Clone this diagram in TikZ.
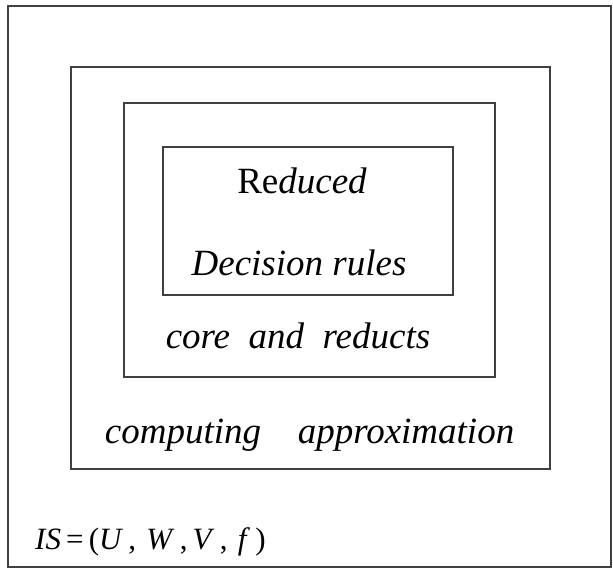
\documentclass[tikz,border=0pt]{standalone}
\usepackage{fontspec}
\setmainfont{Liberation Serif}
\tikzset{
  frame/.style={draw=black!75, line width=2.2pt},
  lbl/.style={inner sep=0pt, anchor=base, font=\fontsize{37}{40}\selectfont\itshape},
  smalllbl/.style={inner sep=0pt, anchor=base west, font=\fontsize{31}{34}\selectfont}
}
\begin{document}
\begin{tikzpicture}[x=1pt,y=-1pt]
\useasboundingbox (0,0) rectangle (613,569);
\fill[white] (0,0) rectangle (613,569);
\draw[frame] (8,6) rectangle (611,567);
\draw[frame] (71,67) rectangle (550,469);
\draw[frame] (124,103) rectangle (495,377);
\draw[frame] (163,147) rectangle (453,295);
\node[lbl] (red) at (302,194) {\upshape Re\itshape duced};
\node[lbl] (dec) at (299,276) {Decision rules};
\node[lbl] (core) at (298,348) {core\ \ and\ \ reducts};
\node[lbl] (comp) at (183,443) {computing};
\node[lbl] (appr) at (406,443) {approximation};
\node[smalllbl] (is) at (35,549) {\textit{IS}\,=\,(\textit{U}\,,\,\,\textit{W}\,,\,\textit{V}\,,\,\,\textit{f}\,)};
\end{tikzpicture}
\end{document}
